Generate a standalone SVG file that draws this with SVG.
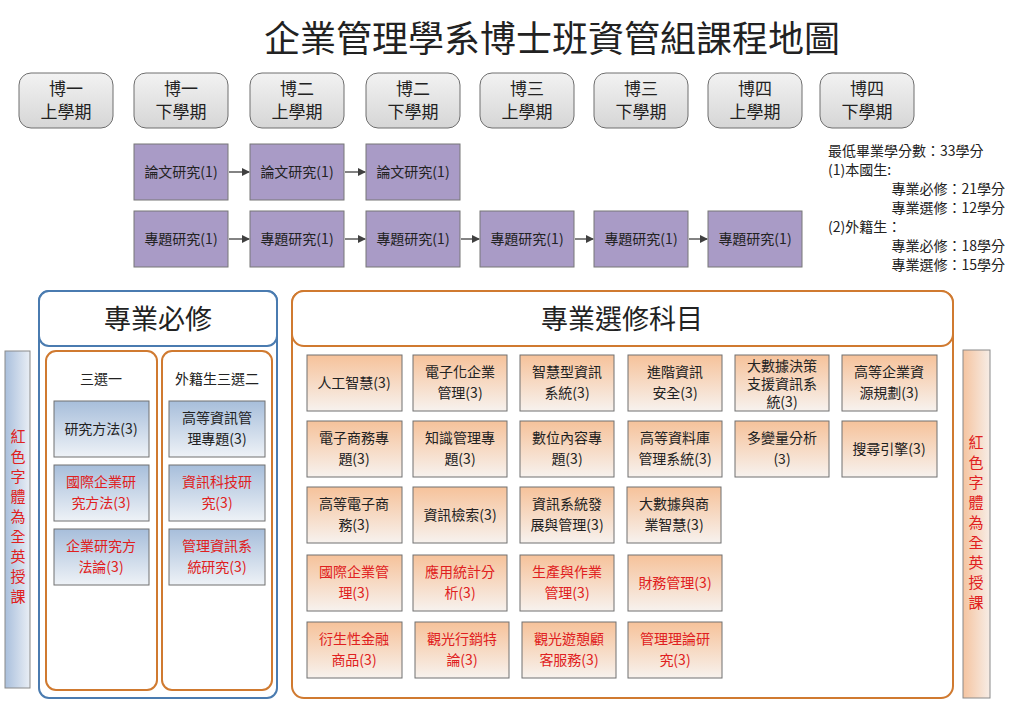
<svg xmlns="http://www.w3.org/2000/svg" width="1015" height="703" viewBox="0 0 1015 703">
<defs>
<linearGradient id="gh" x1="0" y1="0" x2="0" y2="1"><stop offset="0" stop-color="#f2f2f2"/><stop offset="1" stop-color="#d6d6d6"/></linearGradient>
<linearGradient id="gb" x1="0" y1="0" x2="0" y2="1"><stop offset="0" stop-color="#a7bedb"/><stop offset="1" stop-color="#eef2f7"/></linearGradient>
<linearGradient id="go" x1="0" y1="0" x2="0" y2="1"><stop offset="0" stop-color="#f6c29a"/><stop offset="1" stop-color="#f7f2ee"/></linearGradient>
<linearGradient id="gv" x1="0" y1="0" x2="1" y2="0"><stop offset="0" stop-color="#a9bfdc"/><stop offset="1" stop-color="#e9eef5"/></linearGradient>
<linearGradient id="gvo" x1="0" y1="0" x2="1" y2="0"><stop offset="0" stop-color="#f5c4a0"/><stop offset="1" stop-color="#f7ede6"/></linearGradient>
<marker id="ar" markerWidth="8" markerHeight="8" refX="7" refY="4" orient="auto" markerUnits="userSpaceOnUse"><path d="M0,0 L8,4 L0,8 z" fill="#404040"/></marker>
<style>
text{font-family:"Noto Sans CJK TC","Noto Sans CJK SC",sans-serif;text-anchor:middle}
.h rect{fill:url(#gh);stroke:#6e6e6e;stroke-width:1}
.h text{font-size:17px;fill:#222}
.p rect{fill:#a99bc6;stroke:#777;stroke-width:1}
.p text{font-size:14px;fill:#222}
.b rect{fill:url(#gb);stroke:#707070;stroke-width:1}
.o rect{fill:url(#go);stroke:#707070;stroke-width:1}
.c{font-size:14px;fill:#222}
.r{font-size:14px;fill:#e02020}
.con line{stroke:#404040;stroke-width:1.3;marker-end:url(#ar)}
.note{font-size:14px;fill:#222;text-anchor:start}
.ne{font-size:14px;fill:#222;text-anchor:end}
</style>
</defs>
<rect width="1015" height="703" fill="#fff"/>
<text x="552" y="52" style="font-size:36px;fill:#222">企業管理學系博士班資管組課程地圖</text>

<g id="hdr1" class="h"><rect x="19" y="73" width="94" height="55" rx="12"/><text x="66" y="95">博一</text><text x="66" y="118">上學期</text></g>
<g id="hdr2" class="h"><rect x="134" y="73" width="94" height="55" rx="12"/><text x="181" y="95">博一</text><text x="181" y="118">下學期</text></g>
<g id="hdr3" class="h"><rect x="250" y="73" width="94" height="55" rx="12"/><text x="297" y="95">博二</text><text x="297" y="118">上學期</text></g>
<g id="hdr4" class="h"><rect x="366" y="73" width="94" height="55" rx="12"/><text x="413" y="95">博二</text><text x="413" y="118">下學期</text></g>
<g id="hdr5" class="h"><rect x="480" y="73" width="94" height="55" rx="12"/><text x="527" y="95">博三</text><text x="527" y="118">上學期</text></g>
<g id="hdr6" class="h"><rect x="594" y="73" width="94" height="55" rx="12"/><text x="641" y="95">博三</text><text x="641" y="118">下學期</text></g>
<g id="hdr7" class="h"><rect x="708" y="73" width="94" height="55" rx="12"/><text x="755" y="95">博四</text><text x="755" y="118">上學期</text></g>
<g id="hdr8" class="h"><rect x="820" y="73" width="94" height="55" rx="12"/><text x="867" y="95">博四</text><text x="867" y="118">下學期</text></g>

<g id="t1" class="p"><rect x="134" y="144" width="94" height="56"/><text x="181" y="177">論文研究(1)</text></g>
<g id="t2" class="p"><rect x="250" y="144" width="94" height="56"/><text x="297" y="177">論文研究(1)</text></g>
<g id="t3" class="p"><rect x="366" y="144" width="94" height="56"/><text x="413" y="177">論文研究(1)</text></g>
<g id="s1" class="p"><rect x="134" y="211" width="94" height="56"/><text x="181" y="244">專題研究(1)</text></g>
<g id="s2" class="p"><rect x="250" y="211" width="94" height="56"/><text x="297" y="244">專題研究(1)</text></g>
<g id="s3" class="p"><rect x="366" y="211" width="94" height="56"/><text x="413" y="244">專題研究(1)</text></g>
<g id="s4" class="p"><rect x="480" y="211" width="94" height="56"/><text x="527" y="244">專題研究(1)</text></g>
<g id="s5" class="p"><rect x="594" y="211" width="94" height="56"/><text x="641" y="244">專題研究(1)</text></g>
<g id="s6" class="p"><rect x="708" y="211" width="94" height="56"/><text x="755" y="244">專題研究(1)</text></g>

<g id="connectors" class="con">
<line x1="229" y1="172" x2="249" y2="172"/><line x1="345" y1="172" x2="365" y2="172"/>
<line x1="229" y1="239" x2="249" y2="239"/><line x1="345" y1="239" x2="365" y2="239"/>
<line x1="461" y1="239" x2="479" y2="239"/><line x1="575" y1="239" x2="593" y2="239"/>
<line x1="689" y1="239" x2="707" y2="239"/>
</g>

<g id="credits">
<text class="note" x="828" y="156">最低畢業學分數：33學分</text>
<text class="note" x="828" y="175">(1)本國生:</text>
<text class="ne" x="1005" y="194">專業必修：21學分</text>
<text class="ne" x="1005" y="213">專業選修：12學分</text>
<text class="note" x="828" y="232">(2)外籍生：</text>
<text class="ne" x="1005" y="251">專業必修：18學分</text>
<text class="ne" x="1005" y="270">專業選修：15學分</text>
</g>

<g id="leftbar"><rect x="5" y="351" width="25" height="337" fill="url(#gv)" stroke="#8a8a8a"/>
<text x="18" y="442" class="r" style="font-size:15px">紅</text><text x="18" y="462" class="r" style="font-size:15px">色</text><text x="18" y="482" class="r" style="font-size:15px">字</text><text x="18" y="502" class="r" style="font-size:15px">體</text><text x="18" y="522" class="r" style="font-size:15px">為</text><text x="18" y="542" class="r" style="font-size:15px">全</text><text x="18" y="562" class="r" style="font-size:15px">英</text><text x="18" y="582" class="r" style="font-size:15px">授</text><text x="18" y="602" class="r" style="font-size:15px">課</text></g>
<g id="rightbar"><rect x="963" y="350" width="27" height="348" fill="url(#gvo)" stroke="#8a8a8a"/>
<text x="976" y="448" class="r" style="font-size:15px">紅</text><text x="976" y="468" class="r" style="font-size:15px">色</text><text x="976" y="488" class="r" style="font-size:15px">字</text><text x="976" y="508" class="r" style="font-size:15px">體</text><text x="976" y="528" class="r" style="font-size:15px">為</text><text x="976" y="548" class="r" style="font-size:15px">全</text><text x="976" y="568" class="r" style="font-size:15px">英</text><text x="976" y="588" class="r" style="font-size:15px">授</text><text x="976" y="608" class="r" style="font-size:15px">課</text></g>

<g id="req">
<rect x="39" y="291" width="238" height="407" rx="10" fill="#fff" stroke="#4a7bb0" stroke-width="2"/>
<rect x="39" y="291" width="238" height="55" rx="10" fill="#fff" stroke="#4a7bb0" stroke-width="2"/>
<text x="158" y="329" style="font-size:27px;fill:#222">專業必修</text>
<rect x="46" y="351" width="111" height="339" rx="10" fill="#fff" stroke="#d07a30" stroke-width="2"/>
<rect x="162" y="351" width="110" height="339" rx="10" fill="#fff" stroke="#d07a30" stroke-width="2"/>
<text x="101" y="384" class="c">三選一</text>
<text x="217" y="384" class="c">外籍生三選二</text>
</g>
<g id="r1" class="b"><rect x="54" y="401" width="95" height="56"/><text x="101" y="434" class="c">研究方法(3)</text></g>
<g id="r2" class="b"><rect x="54" y="465" width="95" height="56"/><text x="101" y="487" class="r">國際企業研</text><text x="101" y="508" class="r">究方法(3)</text></g>
<g id="r3" class="b"><rect x="54" y="529" width="95" height="56"/><text x="101" y="551" class="r">企業研究方</text><text x="101" y="572" class="r">法論(3)</text></g>
<g id="r4" class="b"><rect x="169" y="401" width="96" height="56"/><text x="217" y="423" class="c">高等資訊管</text><text x="217" y="444" class="c">理專題(3)</text></g>
<g id="r5" class="b"><rect x="169" y="465" width="96" height="56"/><text x="217" y="487" class="r">資訊科技研</text><text x="217" y="508" class="r">究(3)</text></g>
<g id="r6" class="b"><rect x="169" y="529" width="96" height="56"/><text x="217" y="551" class="r">管理資訊系</text><text x="217" y="572" class="r">統研究(3)</text></g>

<g id="elec">
<rect x="292" y="291" width="661" height="407" rx="12" fill="#fff" stroke="#d07a30" stroke-width="2"/>
<rect x="292" y="291" width="661" height="55" rx="12" fill="#fff" stroke="#d07a30" stroke-width="2"/>
<text x="622" y="329" style="font-size:27px;fill:#222">專業選修科目</text>
</g>
<g id="e1" class="o"><rect x="307" y="355" width="95" height="56"/><text x="354" y="388" class="c">人工智慧(3)</text></g>
<g id="e2" class="o"><rect x="413" y="355" width="94" height="56"/><text x="460" y="377" class="c">電子化企業</text><text x="460" y="398" class="c">管理(3)</text></g>
<g id="e3" class="o"><rect x="520" y="355" width="94" height="56"/><text x="567" y="377" class="c">智慧型資訊</text><text x="567" y="398" class="c">系統(3)</text></g>
<g id="e4" class="o"><rect x="628" y="355" width="94" height="56"/><text x="675" y="377" class="c">進階資訊</text><text x="675" y="398" class="c">安全(3)</text></g>
<g id="e5" class="o"><rect x="735" y="355" width="94" height="56"/><text x="782" y="371" class="c">大數據決策</text><text x="782" y="389" class="c">支援資訊系</text><text x="782" y="407" class="c">統(3)</text></g>
<g id="e6" class="o"><rect x="842" y="355" width="95" height="56"/><text x="889" y="377" class="c">高等企業資</text><text x="889" y="398" class="c">源規劃(3)</text></g>
<g id="e7" class="o"><rect x="307" y="421" width="95" height="56"/><text x="354" y="443" class="c">電子商務專</text><text x="354" y="464" class="c">題(3)</text></g>
<g id="e8" class="o"><rect x="413" y="421" width="94" height="56"/><text x="460" y="443" class="c">知識管理專</text><text x="460" y="464" class="c">題(3)</text></g>
<g id="e9" class="o"><rect x="520" y="421" width="94" height="56"/><text x="567" y="443" class="c">數位內容專</text><text x="567" y="464" class="c">題(3)</text></g>
<g id="e10" class="o"><rect x="628" y="421" width="94" height="56"/><text x="675" y="443" class="c">高等資料庫</text><text x="675" y="464" class="c">管理系統(3)</text></g>
<g id="e11" class="o"><rect x="735" y="421" width="94" height="56"/><text x="782" y="443" class="c">多變量分析</text><text x="782" y="464" class="c">(3)</text></g>
<g id="e12" class="o"><rect x="842" y="421" width="95" height="56"/><text x="889" y="454" class="c">搜尋引擎(3)</text></g>
<g id="e13" class="o"><rect x="307" y="487" width="95" height="56"/><text x="354" y="509" class="c">高等電子商</text><text x="354" y="530" class="c">務(3)</text></g>
<g id="e14" class="o"><rect x="413" y="487" width="94" height="56"/><text x="460" y="520" class="c">資訊檢索(3)</text></g>
<g id="e15" class="o"><rect x="520" y="487" width="94" height="56"/><text x="567" y="509" class="c">資訊系統發</text><text x="567" y="530" class="c">展與管理(3)</text></g>
<g id="e16" class="o"><rect x="627" y="487" width="94" height="56"/><text x="674" y="509" class="c">大數據與商</text><text x="674" y="530" class="c">業智慧(3)</text></g>
<g id="e17" class="o"><rect x="307" y="555" width="95" height="56"/><text x="354" y="577" class="r">國際企業管</text><text x="354" y="598" class="r">理(3)</text></g>
<g id="e18" class="o"><rect x="413" y="555" width="94" height="56"/><text x="460" y="577" class="r">應用統計分</text><text x="460" y="598" class="r">析(3)</text></g>
<g id="e19" class="o"><rect x="520" y="555" width="94" height="56"/><text x="567" y="577" class="r">生產與作業</text><text x="567" y="598" class="r">管理(3)</text></g>
<g id="e20" class="o"><rect x="628" y="555" width="94" height="56"/><text x="675" y="588" class="r">財務管理(3)</text></g>
<g id="e21" class="o"><rect x="307" y="622" width="95" height="56"/><text x="354" y="644" class="r">衍生性金融</text><text x="354" y="665" class="r">商品(3)</text></g>
<g id="e22" class="o"><rect x="415" y="622" width="94" height="56"/><text x="462" y="644" class="r">觀光行銷特</text><text x="462" y="665" class="r">論(3)</text></g>
<g id="e23" class="o"><rect x="522" y="622" width="94" height="56"/><text x="569" y="644" class="r">觀光遊憩顧</text><text x="569" y="665" class="r">客服務(3)</text></g>
<g id="e24" class="o"><rect x="628" y="622" width="94" height="56"/><text x="675" y="644" class="r">管理理論研</text><text x="675" y="665" class="r">究(3)</text></g>
</svg>
